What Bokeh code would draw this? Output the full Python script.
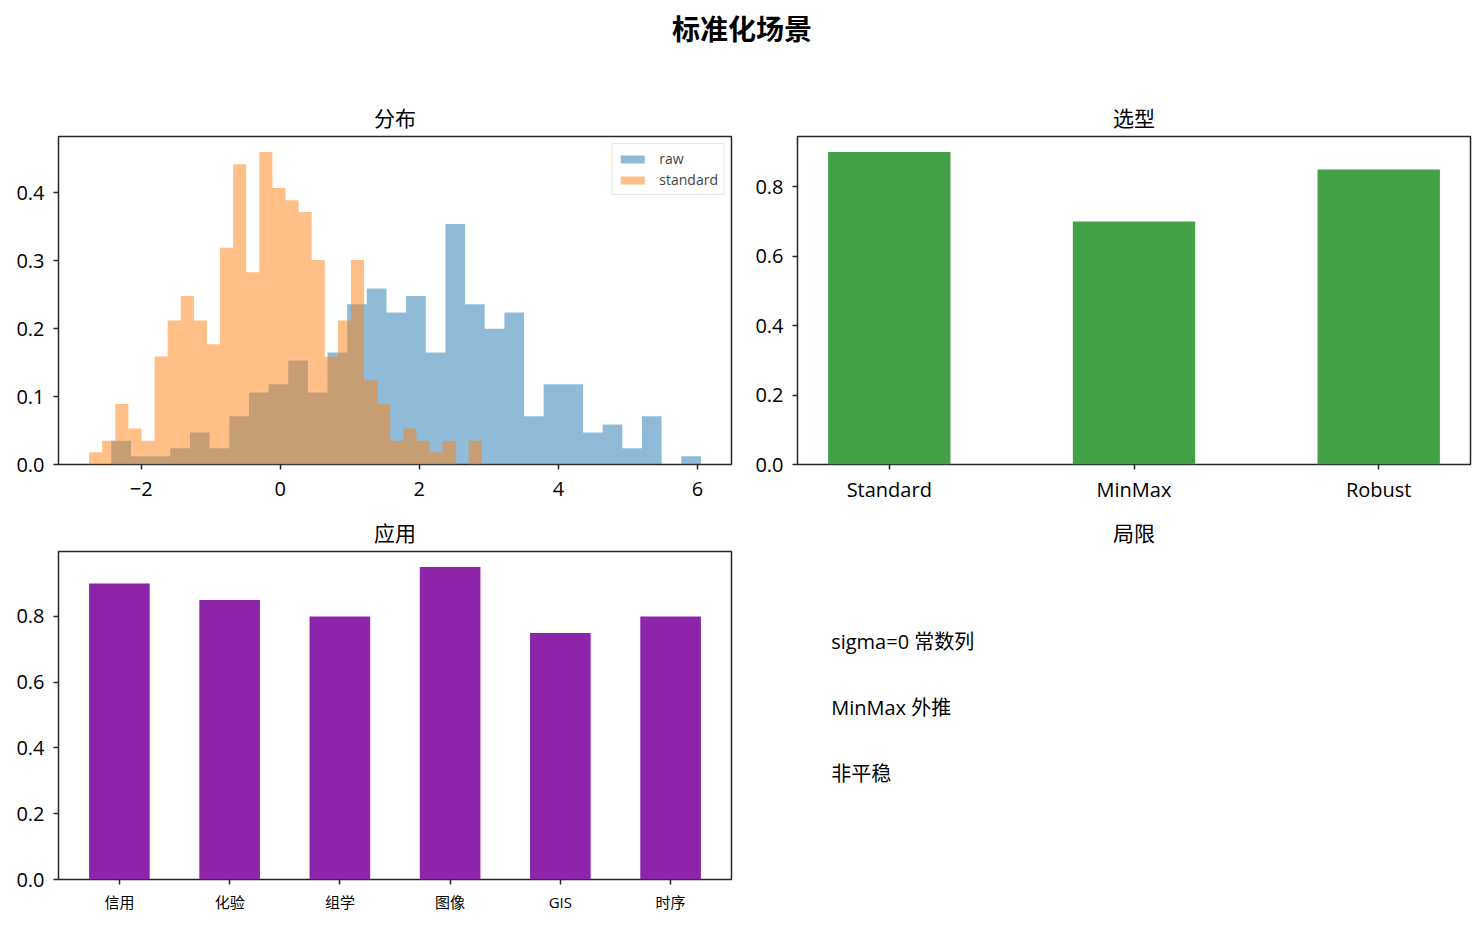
import numpy as np
from bokeh.plotting import figure
from bokeh.layouts import column, row
from bokeh.models import Range1d, FixedTicker, NumeralTickFormatter, Div
from bokeh.core.properties import value
from bokeh.embed import file_html
from bokeh.resources import INLINE

suptitle = "标准化场景"
panel_titles = ["分布", "选型", "应用", "局限"]

# histogram (density), 30 bins each
raw_range = (-2.43, 6.05)
raw_density = [0.035, 0.012, 0.012, 0.024, 0.047, 0.024, 0.071, 0.106, 0.118, 0.153,
               0.106, 0.165, 0.236, 0.259, 0.224, 0.248, 0.165, 0.354, 0.236, 0.200,
               0.224, 0.071, 0.118, 0.118, 0.047, 0.059, 0.024, 0.071, 0.0, 0.012]
std_range = (-2.75, 2.90)
std_density = [0.018, 0.035, 0.089, 0.053, 0.035, 0.159, 0.212, 0.248, 0.212, 0.177,
               0.319, 0.442, 0.283, 0.460, 0.407, 0.389, 0.372, 0.301, 0.159, 0.212,
               0.301, 0.124, 0.089, 0.035, 0.053, 0.035, 0.018, 0.035, 0.0, 0.035]

methods = ["Standard", "MinMax", "Robust"]
method_scores = [0.9, 0.7, 0.85]

domains = ["信用", "化验", "组学", "图像", "GIS", "时序"]
domain_scores = [0.9, 0.85, 0.8, 0.95, 0.75, 0.8]

limits = ["sigma=0 常数列", "MinMax 外推", "非平稳"]

FONT = "Open Sans, Noto Sans CJK SC"
CJK = "Noto Sans CJK SC"
SPINE = "#262626"


def make_fig(title, w, h, borders, x_range, y_range):
    left, right, top, bottom = borders
    p = figure(width=w, height=h, x_range=x_range, y_range=y_range,
               output_backend="svg", toolbar_location=None, title=title,
               min_border_left=left, min_border_right=right,
               min_border_top=top, min_border_bottom=bottom)
    p.title.align = "center"
    p.title.text_font = CJK
    p.title.text_font_size = "21px"
    p.title.text_font_style = "normal"
    p.title.text_color = "black"
    p.title.standoff = 9
    p.grid.visible = False
    p.outline_line_color = SPINE
    p.outline_line_width = 1.5
    p.outline_line_alpha = 1.0
    for ax in p.axis:
        ax.axis_line_color = None
        ax.major_tick_line_color = SPINE
        ax.major_tick_line_width = 1.5
        ax.major_tick_out = 5
        ax.major_tick_in = 0
        ax.minor_tick_line_color = None
        ax.major_label_text_font = FONT
        ax.major_label_text_font_size = "20px"
        ax.major_label_text_color = "black"
    p.xaxis.major_label_standoff = 12
    p.yaxis.major_label_standoff = 9
    return p


def main():
    # 分布
    p1 = make_fig(panel_titles[0], 741, 442, (58, 10, 68, 46),
                  Range1d(-3.19, 6.49), Range1d(0, 0.483))
    e_raw = np.linspace(raw_range[0], raw_range[1], len(raw_density) + 1)
    e_std = np.linspace(std_range[0], std_range[1], len(std_density) + 1)
    p1.varea_step(x=e_raw, y1=0, y2=raw_density + [raw_density[-1]], step_mode="after",
                  fill_color="#1f77b4", fill_alpha=0.5, legend_label="raw")
    p1.varea_step(x=e_std, y1=0, y2=std_density + [std_density[-1]], step_mode="after",
                  fill_color="#ff7f0e", fill_alpha=0.5, legend_label="standard")
    p1.xaxis.ticker = FixedTicker(ticks=[-2, 0, 2, 4, 6])
    p1.yaxis.ticker = FixedTicker(ticks=[0, 0.1, 0.2, 0.3, 0.4])
    p1.yaxis.formatter = NumeralTickFormatter(format="0.0")
    lg = p1.legend[0]
    lg.location = "top_right"
    lg.margin = 7
    lg.padding = 5
    lg.spacing = 2
    lg.glyph_width = 30
    lg.glyph_height = 10
    lg.label_height = 14
    lg.label_standoff = 12
    lg.label_text_font = FONT
    lg.label_text_font_size = "14px"
    lg.border_line_color = "#cccccc"
    lg.border_line_width = 1
    lg.background_fill_alpha = 0.8

    # 选型
    p2 = make_fig(panel_titles[1], 735, 442, (56, 6, 68, 46),
                  Range1d(-0.375, 2.375), Range1d(0, 0.945))
    xs = list(range(len(methods)))
    p2.vbar(x=xs, top=method_scores, width=0.5, fill_color="#43a047", line_color=None)
    p2.xaxis.ticker = FixedTicker(ticks=xs)
    p2.xaxis.major_label_overrides = {i: m for i, m in zip(xs, methods)}
    p2.xaxis.major_label_standoff = 6
    p2.yaxis.ticker = FixedTicker(ticks=[0, 0.2, 0.4, 0.6, 0.8])
    p2.yaxis.formatter = NumeralTickFormatter(format="0.0")

    # 应用
    p3 = make_fig(panel_titles[2], 741, 407, (58, 10, 41, 38),
                  Range1d(-0.5525, 5.5525), Range1d(0, 0.9975))
    xs3 = list(range(len(domains)))
    p3.vbar(x=xs3, top=domain_scores, width=0.55, fill_color="#8e24aa", line_color=None)
    p3.xaxis.ticker = FixedTicker(ticks=xs3)
    p3.xaxis.major_label_overrides = {i: d for i, d in zip(xs3, domains)}
    p3.xaxis.major_label_text_font_size = "15px"
    p3.xaxis.major_label_standoff = 7
    p3.yaxis.ticker = FixedTicker(ticks=[0, 0.2, 0.4, 0.6, 0.8])
    p3.yaxis.formatter = NumeralTickFormatter(format="0.0")

    # 局限
    p4 = make_fig(panel_titles[3], 735, 407, (56, 6, 41, 38),
                  Range1d(0, 1), Range1d(0, 1))
    p4.axis.visible = False
    p4.outline_line_color = None
    p4.text(x=[0.05] * len(limits), y=[0.7 - 0.2 * i for i in range(len(limits))],
            text=limits, text_font=value(FONT), text_font_size="20px",
            text_baseline="alphabetic", text_align="left", text_color="black",
            y_offset=-8)

    head = Div(text=suptitle, width=1484, height=68, margin=0,
               styles={"text-align": "center", "font-size": "28px", "font-weight": "bold",
                       "font-family": CJK, "line-height": "32px", "padding-top": "12px",
                       "width": "1484px", "color": "black"})
    page = column(head, row(p1, p2, spacing=0), row(p3, p4, spacing=0), spacing=0)
    open("out.html", "w").write(file_html(page, INLINE))


if __name__ == '__main__':
    main()
